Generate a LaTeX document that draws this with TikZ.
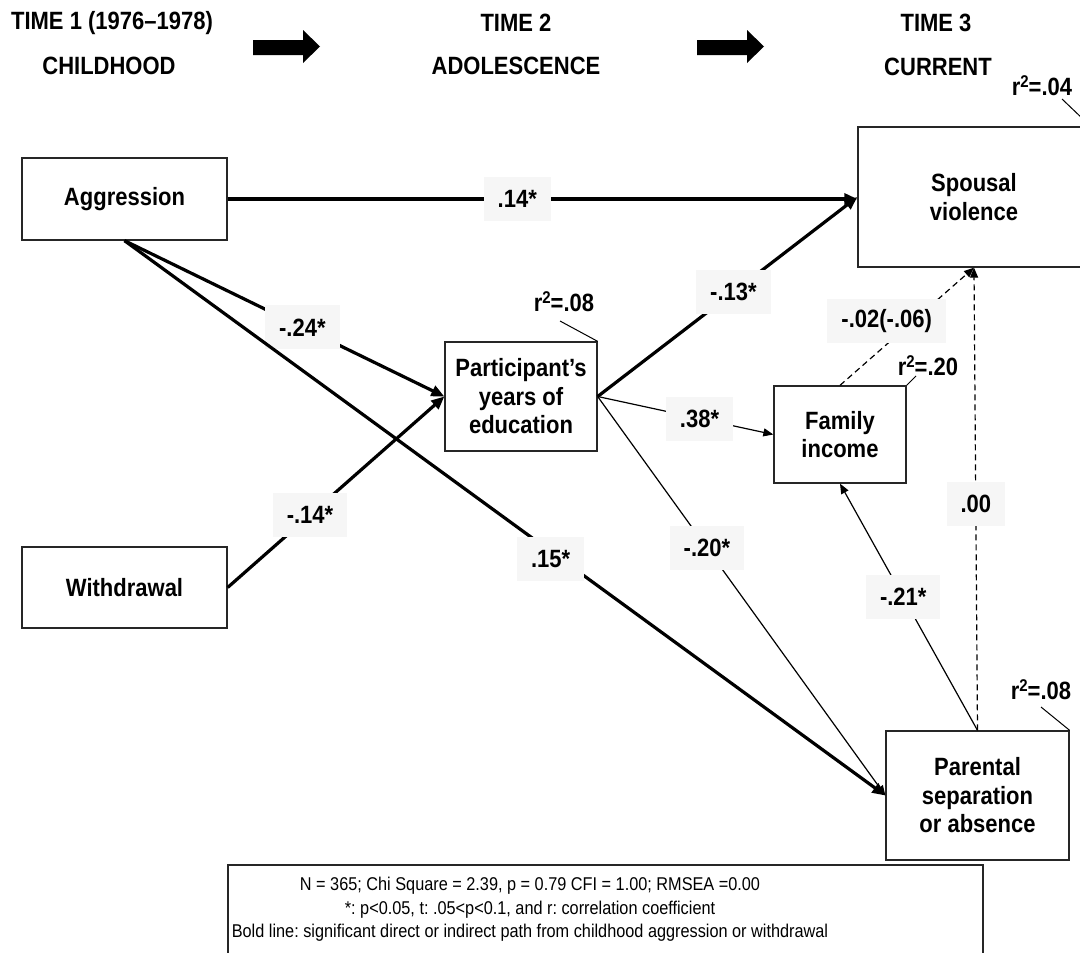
\documentclass[tikz,border=0pt]{standalone}
\usepackage{fontspec}
\setmainfont{Liberation Sans}[FakeStretch=0.88]
\usetikzlibrary{arrows.meta}
\definecolor{labgray}{RGB}{246,246,246}
\newcommand{\rsqr}{r\raisebox{0.62ex}{\fontsize{17}{17}\selectfont 2}}
\begin{document}
\frenchspacing
\begin{tikzpicture}[x=1pt,y=-1pt,
  box/.style={draw=black!85, line width=1.3pt, fill=white, align=center,
    font=\bfseries\fontsize{25}{28.5}\selectfont, inner sep=0pt},
  hdr/.style={font=\bfseries\fontsize{25}{28}\selectfont, inner sep=0pt},
  rsq/.style={font=\bfseries\fontsize{25}{28}\selectfont, inner sep=0pt},
  lab/.style={fill=labgray, font=\bfseries\fontsize{25}{28}\selectfont,
    inner xsep=14pt, inner ysep=0pt, minimum height=44pt},
  boldpath/.style={line width=3.2pt, -{Triangle[length=13pt,width=11pt]}},
  thinpath/.style={line width=1.2pt, -{Triangle[length=10pt,width=8pt]}},
  dashpath/.style={line width=1.2pt, dash pattern=on 6pt off 4pt, -{Triangle[length=10pt,width=8pt]}},
  rline/.style={line width=1pt},
  blockarrow/.style={fill=black, draw=none}
]
\useasboundingbox (0,0) rectangle (1080,953);
\clip (0,0) rectangle (1080,953);

% headers
\node[hdr] (t1) at (112,23) {TIME 1 (1976–1978)};
\node[hdr] (c1) at (109,66) {CHILDHOOD};
\node[hdr] (t2) at (516,23) {TIME 2};
\node[hdr] (c2) at (516,66) {ADOLESCENCE};
\node[hdr] (t3) at (936,23) {TIME 3};
\node[hdr] (c3) at (938,67) {CURRENT};

\fill[blockarrow] (253,40) -- (303,40) -- (303,30) -- (320,46.5) -- (303,63) -- (303,55) -- (253,55) -- cycle;
\fill[blockarrow] (697,40) -- (747,40) -- (747,30) -- (764,46.5) -- (747,63) -- (747,55) -- (697,55) -- cycle;

% boxes
\node[box, minimum width=205pt, minimum height=82pt] (agg) at (124.5,199) {Aggression};
\node[box, minimum width=205pt, minimum height=81pt] (wd) at (124.5,587.5) {Withdrawal};
\node[box, minimum width=152pt, minimum height=109pt] (edu) at (521,396.5) {Participant’s\\years of\\education};
\node[box, minimum width=232pt, minimum height=140pt] (sv) at (974,197) {Spousal\\violence};
\node[box, minimum width=132pt, minimum height=97pt] (fi) at (840,434.5) {Family\\income};
\node[box, minimum width=183pt, minimum height=129pt] (ps) at (977.5,795.5) {Parental\\separation\\or absence};

% r-squared labels
\node[rsq] (r1) at (1042,86) {\rsqr=.04};
\node[rsq] (r2) at (564,302) {\rsqr=.08};
\node[rsq] (r3) at (928,366) {\rsqr=.20};
\node[rsq] (r4) at (1041,690) {\rsqr=.08};
\draw[rline] (1062,99) -- (sv.north east);
\draw[rline] (560,321) -- (edu.north east);
\draw[rline] (916,376) -- (fi.north east);
\draw[rline] (1041,707) -- (ps.north east);

% paths
\draw[boldpath] (agg.east) -- (agg.east -| sv.west) node[lab, pos=0.46] {.14*};
\draw[boldpath] (agg.south) -- (edu.west) node[lab, pos=0.556] {-.24*};
\draw[boldpath] (agg.south) -- (ps.west) node[lab, pos=0.56, yshift=-8pt] {.15*};
\draw[boldpath] (wd.east) -- (edu.west) node[lab, pos=0.38] {-.14*};
\draw[boldpath] (edu.east) -- (sv.west) node[lab, pos=0.523] {-.13*};
\draw[thinpath] (edu.east) -- (fi.west) node[lab, pos=0.58] {.38*};
\draw[thinpath] (edu.east) -- (ps.west) node[lab, pos=0.38] {-.20*};
\draw[dashpath] (fi.north) -- (sv.south) node[lab, pos=0.55, xshift=-27pt] {-.02(-.06)};
\draw[thinpath] (ps.north) -- (fi.south) node[lab, pos=0.54] {-.21*};
\draw[dashpath] (ps.north) -- (sv.south) node[lab, pos=0.49] {.00};

% notes
\draw[line width=1.3pt, draw=black!85] (228,865) rectangle (983,990);
\node[align=center, font=\fontsize{18.5}{23.5}\selectfont, inner sep=0pt] (notes) at (530,909.5)
  {N = 365; Chi Square = 2.39, p = 0.79 CFI = 1.00; RMSEA =0.00\\
   *: p<0.05, t: .05<p<0.1, and r: correlation coefficient\\
   Bold line: significant direct or indirect path from childhood aggression or withdrawal};
\end{tikzpicture}
\end{document}
